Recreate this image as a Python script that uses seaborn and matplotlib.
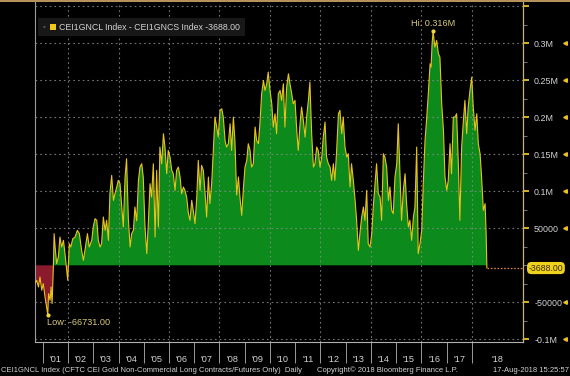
import matplotlib
matplotlib.use("Agg")
import matplotlib.pyplot as plt
import matplotlib.transforms as mtransforms
from matplotlib.patches import Rectangle
from matplotlib.ticker import MultipleLocator, FixedLocator, NullFormatter
import numpy as np
import seaborn as sns

# ---------------- data ----------------
years = [
    2000.69, 2000.76, 2000.83, 2000.89, 2000.96, 2001.02, 2001.09, 2001.16, 2001.20, 2001.23,
    2001.29, 2001.33, 2001.37, 2001.42, 2001.45, 2001.49, 2001.55, 2001.62, 2001.68, 2001.75,
    2001.82, 2001.88, 2001.92, 2001.99, 2002.05, 2002.11, 2002.19, 2002.28, 2002.37, 2002.45,
    2002.54, 2002.61, 2002.67, 2002.77, 2002.84, 2002.94, 2003.00, 2003.07, 2003.14, 2003.20,
    2003.27, 2003.33, 2003.40, 2003.47, 2003.53, 2003.60, 2003.66, 2003.73, 2003.80, 2003.86,
    2003.93, 2003.99, 2004.06, 2004.13, 2004.19, 2004.26, 2004.32, 2004.39, 2004.46, 2004.52,
    2004.59, 2004.65, 2004.72, 2004.79, 2004.85, 2004.92, 2004.98, 2005.05, 2005.12, 2005.18,
    2005.25, 2005.31, 2005.38, 2005.45, 2005.51, 2005.58, 2005.64, 2005.71, 2005.78, 2005.84,
    2005.91, 2005.97, 2006.04, 2006.11, 2006.17, 2006.24, 2006.30, 2006.37, 2006.44, 2006.50,
    2006.57, 2006.63, 2006.70, 2006.77, 2006.83, 2006.90, 2006.96, 2007.03, 2007.10, 2007.16,
    2007.23, 2007.29, 2007.36, 2007.43, 2007.49, 2007.56, 2007.62, 2007.69, 2007.76, 2007.82,
    2007.89, 2007.95, 2008.02, 2008.09, 2008.15, 2008.22, 2008.28, 2008.35, 2008.42, 2008.48,
    2008.55, 2008.61, 2008.68, 2008.75, 2008.81, 2008.88, 2008.94, 2009.01, 2009.08, 2009.14,
    2009.21, 2009.27, 2009.34, 2009.41, 2009.47, 2009.54, 2009.60, 2009.67, 2009.74, 2009.80,
    2009.87, 2009.93, 2010.00, 2010.07, 2010.13, 2010.20, 2010.26, 2010.33, 2010.40, 2010.46,
    2010.53, 2010.59, 2010.66, 2010.73, 2010.79, 2010.86, 2010.92, 2010.99, 2011.06, 2011.12,
    2011.19, 2011.25, 2011.32, 2011.39, 2011.45, 2011.52, 2011.58, 2011.65, 2011.72, 2011.78,
    2011.85, 2011.91, 2011.98, 2012.05, 2012.11, 2012.18, 2012.24, 2012.31, 2012.38, 2012.44,
    2012.51, 2012.57, 2012.64, 2012.71, 2012.77, 2012.84, 2012.90, 2012.97, 2013.04, 2013.10,
    2013.17, 2013.23, 2013.30, 2013.37, 2013.43, 2013.50, 2013.56, 2013.63, 2013.70, 2013.76,
    2013.83, 2013.89, 2013.96, 2014.03, 2014.09, 2014.16, 2014.22, 2014.29, 2014.36, 2014.42,
    2014.49, 2014.55, 2014.62, 2014.69, 2014.75, 2014.82, 2014.88, 2014.95, 2015.02, 2015.08,
    2015.15, 2015.21, 2015.28, 2015.35, 2015.41, 2015.48, 2015.54, 2015.61, 2015.68, 2015.74,
    2015.81, 2015.87, 2015.94, 2016.01, 2016.07, 2016.14, 2016.20, 2016.27, 2016.34, 2016.38,
    2016.42, 2016.46, 2016.53, 2016.60, 2016.67, 2016.73, 2016.80, 2016.87, 2016.93, 2017.00,
    2017.06, 2017.13, 2017.19, 2017.26, 2017.33, 2017.39, 2017.46, 2017.52, 2017.59, 2017.66,
    2017.72, 2017.79, 2017.85, 2017.92, 2017.99, 2018.05, 2018.12, 2018.19, 2018.25, 2018.32,
    2018.38, 2018.45, 2018.52, 2018.56, 2018.59,
]
net_long = [
    -24750, -20250, -29250, -15750, -33750, -24750, -42750, -58000, -66731, -38250,
    -47250, -29250, -51750, -2250, 42750, 24750, 2250, 11250, 38250, 24750,
    33750, 15750, 2250, -20250, 29250, 24750, 36000, 38250, 47250, 42750,
    20250, 6750, 20250, 42750, 24750, 33750, 51750, 63000, 60750, 33750,
    24750, 29250, 65250, 47250, 60750, 33750, 96750, 121500, 87750, 96750,
    105750, 114750, 110250, 78750, 51750, 119250, 144000, 63000, 24750, 42750,
    47250, 78750, 60000, 114750, 132750, 137250, 119250, 51750, 15750, 56250,
    110250, 92250, 137250, 38250, 128250, 51750, 159750, 137250, 177750, 159750,
    123750, 155250, 146250, 128250, 123750, 101250, 128250, 132750, 119250, 96750,
    105750, 101250, 92250, 69750, 60750, 87750, 74250, 56250, 92250, 141750,
    101250, 135000, 128250, 96750, 65250, 119250, 83250, 110250, 159750, 200250,
    186750, 173250, 209250, 211500, 200250, 168750, 159750, 164250, 191250, 155250,
    200250, 168750, 95000, 119250, 92250, 67500, 101250, 132750, 141750, 164250,
    155250, 132750, 137250, 186750, 168750, 164250, 191250, 231750, 249750, 236250,
    245250, 261000, 236250, 218250, 186750, 204750, 177750, 231750, 236250, 222750,
    245250, 186750, 240750, 258750, 245250, 231750, 218250, 222750, 182250, 155250,
    191250, 213750, 195750, 173250, 200250, 222750, 247500, 177750, 132750, 137250,
    159750, 155250, 132750, 146250, 173250, 193500, 146250, 137250, 132750, 114750,
    137250, 114750, 155250, 204750, 209250, 177750, 200250, 159750, 146250, 150750,
    105750, 137250, 114750, 87750, 60750, 20250, 42750, 65250, 78750, 60750,
    101250, 29250, 24750, 42750, 78750, 110250, 137250, 96750, 92250, 60750,
    150750, 146250, 132750, 87750, 105750, 74250, 69750, 119250, 137250, 191250,
    119250, 60750, 101250, 123750, 83250, 51750, 60750, 33750, 65250, 78750,
    159750, 15750, 29250, 47250, 110250, 168750, 195750, 231750, 272250, 267750,
    300000, 316000, 294750, 303750, 285750, 281250, 218250, 182250, 119250, 101250,
    114750, 164250, 123750, 200250, 200250, 204750, 137250, 60750, 159750, 195750,
    222750, 177750, 213750, 236250, 254250, 213750, 182250, 204750, 164250, 150750,
    119250, 74250, 83250, 42750, -3688,
]

year_starts = list(range(2001, 2019))
grid_years = list(range(2002, 2019, 2))
year_label_pos = [y + 0.5 for y in range(2001, 2018)] + [2019.0]
year_labels = ["'01", "'02", "'03", "'04", "'05", "'06", "'07", "'08", "'09",
               "'10", "'11", "'12", "'13", "'14", "'15", "'16", "'17", "'18"]
y_ticks = [-100000, -50000, 50000, 100000, 150000, 200000, 250000, 300000, 350000]
y_tick_labels = ["-0.1M", "-50000", "50000", "0.1M", "0.15M", "0.2M", "0.25M", "0.3M", ""]

hi_year, hi_value = 2016.46, 316000
low_year, low_value = 2001.20, -66731
last_value = -3688.00

legend_text = "CEI1GNCL Index - CEI1GNCS Index -3688.00"
footer_left = "CEI1GNCL Index (CFTC CEI Gold Non-Commercial Long Contracts/Futures Only)  Daily"
footer_mid = "Copyright\u00a9 2018 Bloomberg Finance L.P."
footer_right = "17-Aug-2018 15:25:57"

# ---------------- styling ----------------
sns.set_theme(style="dark")
plt.rcParams['font.family'] = ['Liberation Sans', 'DejaVu Sans']
plt.rcParams['lines.scale_dashes'] = False

W, H = 570, 376
BG = "black"
LINE = "#e9c21c"
GREEN = "#0c8a1c"
RED = "#8a1a2c"
GRID = "#8a8a8a"
TXT = "#d2d2d2"
KHAKI = "#d9c97a"

fig = plt.figure(figsize=(W / 100, H / 100), dpi=100, facecolor=BG)
ax = fig.add_axes([35 / W, (H - 342) / H, (523 - 35) / W, (342 - 2) / H])
ax.set_facecolor(BG)

x_min, x_max = 2000.693, 2020.02
y_min, y_max = -103600, 355700
ax.set_xlim(x_min, x_max)
ax.set_ylim(y_min, y_max)

xs = np.array(years)
vs = np.array(net_long, dtype=float)

ax.fill_between(xs, 0, vs, where=vs >= 0, interpolate=True, color=GREEN, lw=0, zorder=1)
ax.fill_between(xs, 0, vs, where=vs <= 0, interpolate=True, color=RED, lw=0, zorder=1)

# dotted grid drawn over the fill
for gy in y_ticks:
    ax.axhline(gy, color=GRID, lw=0.8, ls=(0, (1.2, 2.2)), alpha=0.85, zorder=2)
for gx in grid_years:
    ax.axvline(gx, color=GRID, lw=0.8, ls=(0, (1.2, 2.2)), alpha=0.85, zorder=2)

sns.lineplot(x=xs, y=vs, ax=ax, color=LINE, linewidth=0.8, estimator=None,
             sort=False, zorder=3, legend=False)

# last-value dotted connector to the right axis
ax.hlines(last_value, years[-1], x_max, colors="#d9844c", linestyles=(0, (1.2, 1.2)),
          lw=0.9, zorder=3)

# spines
ax.spines["top"].set_visible(False)
ax.spines["left"].set_color("#9a9a9a")
ax.spines["left"].set_linewidth(0.8)
ax.spines["bottom"].set_color("#b0b0b0")
ax.spines["bottom"].set_linewidth(0.8)
ax.spines["right"].set_color("#c9b27a")
ax.spines["right"].set_linewidth(0.9)

# y axis on right
ax.yaxis.tick_right()
ax.set_yticks(y_ticks)
ax.set_yticklabels(y_tick_labels)
ax.yaxis.set_minor_locator(MultipleLocator(25000))
ax.tick_params(axis="y", which="major", direction="out", length=4, width=1.3,
               color=LINE, labelcolor=TXT, labelsize=6.4, pad=4,
               left=False, right=True)
ax.tick_params(axis="y", which="minor", direction="out", length=3, width=0.6,
               color="#8a8a8a", left=False, right=True)

# x axis: separators at year starts, labels centred in each year
ax.xaxis.set_major_locator(FixedLocator(year_starts))
ax.xaxis.set_major_formatter(NullFormatter())
ax.xaxis.set_minor_locator(FixedLocator(year_label_pos))
ax.set_xticklabels(year_labels, minor=True)
ax.tick_params(axis="x", which="major", direction="out", length=15, width=0.7,
               color="#9a9a9a", bottom=True)
ax.tick_params(axis="x", which="minor", length=0, labelcolor=TXT, labelsize=6.6,
               pad=9, bottom=True)
ax.set_xlabel("")
ax.set_ylabel("")

# far-right small markers
blend = mtransforms.blended_transform_factory(ax.transAxes, ax.transData)
ax.plot([1.087] * 8, y_ticks[:8], ls="none", marker="<", ms=2.6, color=LINE,
        transform=blend, clip_on=False)

# last value tag
ax.text(1.047, last_value, f"{last_value:.2f}", transform=blend, ha="center",
        va="center", fontsize=6.3, color="#3a2a00",
        bbox=dict(boxstyle="round,pad=0.18,rounding_size=0.5", fc="#f0d21c", ec="none"),
        clip_on=False, zorder=6)

# Hi / Low markers
ax.scatter([hi_year], [hi_value], s=9, color="#f3d63a", zorder=5, linewidths=0)
ax.annotate(f"Hi: {hi_value/1e6:.3f}M", (hi_year, hi_value), xytext=(0, 2.5),
            textcoords="offset points", ha="center", va="bottom", fontsize=6.6,
            color=KHAKI, zorder=6)
ax.scatter([low_year], [low_value], s=9, color="#f3d63a", zorder=5, linewidths=0)
ax.annotate(f"Low: {low_value:.2f}", (low_year, low_value), xytext=(-0.5, -2.5),
            textcoords="offset points", ha="left", va="top", fontsize=6.6,
            color=KHAKI, zorder=6)

# legend box (top-left)
def fx(px):
    return px / W

def fy(py):
    return 1 - py / H

fig.patches.append(Rectangle((fx(38), fy(36)), fx(245) - fx(38), fy(18) - fy(36),
                             transform=fig.transFigure, fc="#181818", ec="none", zorder=5))
fig.patches.append(Rectangle((fx(49.5), fy(30)), 6 / W, 6 / H,
                             transform=fig.transFigure, fc="#f0c81c", ec="none", zorder=6))
fig.text(fx(44), fy(27), "\u25cf", color="#5a5a5a", fontsize=3.5, ha="center",
         va="center", zorder=7)
fig.text(fx(59), fy(27), legend_text, color=TXT, fontsize=6.3, ha="left", va="center",
         zorder=7)

# window top strip
fig.patches.append(Rectangle((0, fy(2)), 1, 2 / H, transform=fig.transFigure,
                             fc="#b8905a", ec="none", zorder=1))

# footer
fig.text(fx(1), fy(370), footer_left, color=TXT, fontsize=5.5, ha="left", va="center")
fig.text(fx(387), fy(370), footer_mid, color=TXT, fontsize=5.5, ha="center", va="center")
fig.text(fx(569), fy(370), footer_right, color=TXT, fontsize=5.5, ha="right", va="center")

fig.savefig("out.png", dpi=100, facecolor=BG)
